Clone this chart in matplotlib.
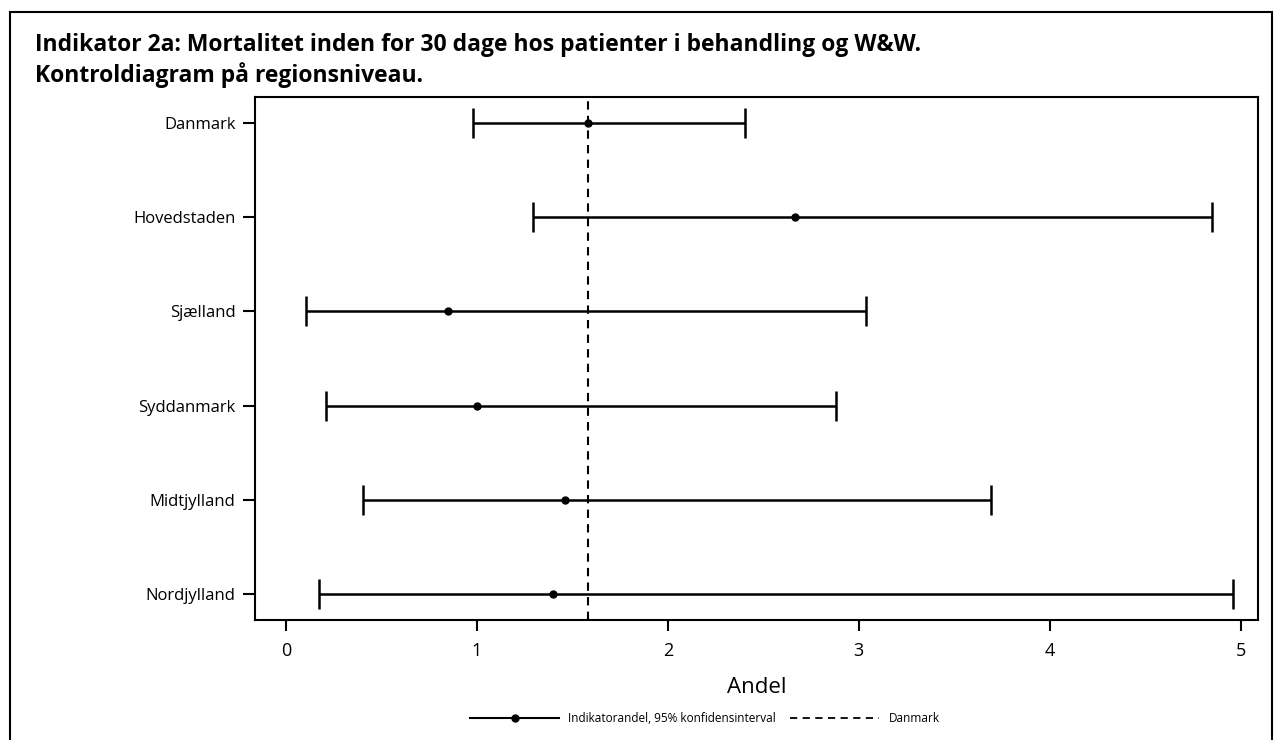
import matplotlib.pyplot as plt
from matplotlib.lines import Line2D
from matplotlib.patches import Rectangle

# Indikator 2a, andel (%) med 95% konfidensinterval pr. region
regions = ['Danmark', 'Hovedstaden', 'Sjælland', 'Syddanmark', 'Midtjylland', 'Nordjylland']
andel = [1.584, 2.667, 0.849, 1.00, 1.462, 1.401]
ci_low = [0.982, 1.294, 0.103, 0.211, 0.402, 0.173]
ci_high = [2.402, 4.85, 3.037, 2.88, 3.693, 4.957]
danmark_ref = andel[0]
xticks = [0, 1, 2, 3, 4, 5]

plt.rcParams['font.family'] = ['Open Sans', 'DejaVu Sans']

fig = plt.figure(figsize=(12.82, 7.40), dpi=100)
W, H = 1282, 740

# ramme om hele figuren
fig.patches.append(Rectangle((10 / W, -0.05), 1262 / W, 1.05 - 12 / H,
                             transform=fig.transFigure, fill=False,
                             edgecolor='black', linewidth=1.5))

fig.text(35 / W, 1 - 45 / H,
         'Indikator 2a: Mortalitet inden for 30 dage hos patienter i behandling og W&W.',
         fontsize=16.5, fontweight='bold', va='center', ha='left')
fig.text(35 / W, 1 - 75 / H, 'Kontroldiagram på regionsniveau.',
         fontsize=16.5, fontweight='bold', va='center', ha='left')

ax = fig.add_axes([255 / W, 120 / H, (1258 - 255) / W, (620 - 97) / H])

ypos = list(range(len(regions)))
xerr = [[a - l for a, l in zip(andel, ci_low)],
        [h - a for a, h in zip(andel, ci_high)]]
ax.errorbar(andel, ypos, xerr=xerr, fmt='o', color='black', ms=5,
            elinewidth=1.8, capsize=11, capthick=1.8)
ax.axvline(danmark_ref, color='black', linewidth=1.5, linestyle=(0, (4, 3)))

ax.set_xlim(-0.162, 5.09)
ax.set_ylim(len(regions) - 1 + 0.28, -0.28)
ax.set_yticks(ypos)
ax.set_yticklabels(regions, fontsize=12)
ax.set_xticks(xticks)
ax.set_xticklabels([str(t) for t in xticks], fontsize=13)
ax.tick_params(axis='y', length=9, width=1.5, pad=5)
ax.tick_params(axis='x', length=8, width=1.5, pad=8)
for s in ax.spines.values():
    s.set_linewidth(1.5)
ax.set_xlabel('Andel', fontsize=16, labelpad=12)

handles = [Line2D([], [], color='black', marker='o', ms=5, linewidth=1.5),
           Line2D([], [], color='black', linewidth=1.3, linestyle=(0, (4, 3)))]
fig.legend(handles, ['Indikatorandel, 95% konfidensinterval', 'Danmark'],
           loc='center', bbox_to_anchor=(705 / W, 21 / H), ncol=2,
           frameon=False, fontsize=8.5, handlelength=7.5, columnspacing=1.2,
           handletextpad=0.8)

fig.savefig('out.png', dpi=100)
